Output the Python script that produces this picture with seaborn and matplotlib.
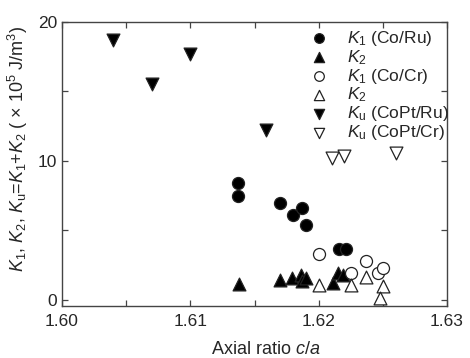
import matplotlib
matplotlib.use("Agg")
import matplotlib.pyplot as plt
import seaborn as sns
import pandas as pd
from matplotlib.ticker import MultipleLocator, FixedLocator

sns.set_theme(style="ticks")
plt.rcParams['font.family'] = ['Liberation Sans', 'DejaVu Sans']
plt.rcParams['mathtext.fontset'] = 'custom'
plt.rcParams['mathtext.rm'] = 'Liberation Sans'
plt.rcParams['mathtext.it'] = 'Liberation Sans:italic'
plt.rcParams['mathtext.bf'] = 'Liberation Sans:bold'

# Data
k1_ru_x = [1.6137, 1.6137, 1.6170, 1.6180, 1.6187, 1.6190, 1.6216, 1.6221]
k1_ru_y = [8.38, 7.50, 6.95, 6.11, 6.63, 5.37, 3.64, 3.64]
k2_ru_x = [1.6138, 1.6170, 1.6179, 1.6186, 1.6187, 1.6190, 1.6211, 1.6215, 1.6219]
k2_ru_y = [1.15, 1.44, 1.56, 1.75, 1.35, 1.56, 1.20, 1.90, 1.80]
k1_cr_x = [1.6200, 1.6225, 1.6237, 1.6246, 1.6250]
k1_cr_y = [3.30, 1.96, 2.80, 1.96, 2.28]
k2_cr_x = [1.6200, 1.6225, 1.6237, 1.6250, 1.6248]
k2_cr_y = [1.08, 1.08, 1.63, 1.00, 0.12]
ku_ru_x = [1.6040, 1.6070, 1.6100, 1.6159]
ku_ru_y = [18.68, 15.57, 17.68, 12.22]
ku_cr_x = [1.6210, 1.6220, 1.6260]
ku_cr_y = [10.18, 10.37, 10.54]

labels = [r"$K_1$ (Co/Ru)", r"$K_2$", r"$K_1$ (Co/Cr)", r"$K_2$",
          r"$K_\mathrm{u}$ (CoPt/Ru)", r"$K_\mathrm{u}$ (CoPt/Cr)"]
x_ticks = [1.60, 1.61, 1.62, 1.63]
x_ticklabels = ["1.60", "1.61", "1.62", "1.63"]
y_ticks = [0, 10, 20]

series = [
    (k1_ru_x, k1_ru_y, 'o', 'black', 75),
    (k2_ru_x, k2_ru_y, '^', 'black', 85),
    (k1_cr_x, k1_cr_y, 'o', 'white', 75),
    (k2_cr_x, k2_cr_y, '^', 'white', 85),
    (ku_ru_x, ku_ru_y, 'v', 'black', 85),
    (ku_cr_x, ku_cr_y, 'v', 'white', 85),
]

fig = plt.figure(figsize=(4.7, 3.58), dpi=100)
ax = fig.add_axes([62/470, 1 - 306/358, (447-62)/470, (306-22)/358])

for (xs, ys, m, fc, s), lab in zip(series, labels):
    df = pd.DataFrame({'x': xs, 'y': ys})
    sns.scatterplot(data=df, x='x', y='y', marker=m, s=s, color=fc,
                    edgecolor='#222222', linewidth=0.9, ax=ax, label=lab,
                    zorder=3)

ax.set_xlim(1.60, 1.63)
ax.set_ylim(-0.45, 20)
ax.xaxis.set_major_locator(FixedLocator(x_ticks))
ax.set_xticklabels(x_ticklabels)
ax.xaxis.set_minor_locator(MultipleLocator(0.005))
ax.yaxis.set_major_locator(FixedLocator(y_ticks))
ax.yaxis.set_minor_locator(MultipleLocator(5))
ax.tick_params(which='both', direction='in', top=True, right=True,
               labelsize=12.5, color='#444444', width=0.9)
ax.tick_params(which='major', length=4)
ax.tick_params(which='minor', length=4)
ax.tick_params(axis='x', pad=6)
for sp in ax.spines.values():
    sp.set_color('#444444')
    sp.set_linewidth(1.0)

ax.set_xlabel(r"Axial ratio $c/a$", fontsize=13)
ax.xaxis.set_label_coords(0.53, -0.122)
ax.set_ylabel(r"$K_1$, $K_2$, $K_\mathrm{u}$=$K_1$+$K_2$ ( × 10$^5$ J/m$^3$)",
              fontsize=13)
ax.yaxis.set_label_coords(-0.083, 0.553)

leg = ax.legend(loc='upper right', frameon=False, fontsize=12.5,
                handletextpad=0.9, labelspacing=0.0, borderaxespad=0.0,
                handlelength=1.4, bbox_to_anchor=(1.022, 1.0),
                markerscale=0.8)

fig.savefig("out.png", dpi=100)
